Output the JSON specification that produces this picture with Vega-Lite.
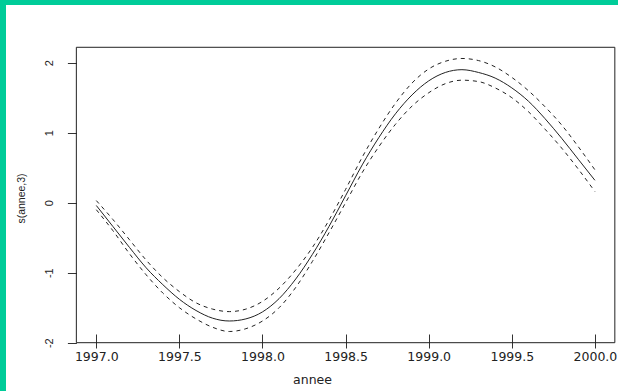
{
  "$schema": "https://vega.github.io/schema/vega-lite/v6.json",
  "width": 612,
  "height": 386,
  "autosize": {"type": "none"},
  "padding": {"left": 6, "top": 5, "right": 0, "bottom": 0},
  "background": "#00cc99",
  "config": {"view": {"fill": "white", "stroke": null}},
  "data": {
    "values": [
      {"annee": 1997.0, "fit": -0.04, "lower": -0.10, "upper": 0.03},
      {"annee": 1997.1, "fit": -0.34, "lower": -0.40, "upper": -0.24},
      {"annee": 1997.2, "fit": -0.64, "lower": -0.73, "upper": -0.53},
      {"annee": 1997.3, "fit": -0.93, "lower": -1.03, "upper": -0.82},
      {"annee": 1997.4, "fit": -1.17, "lower": -1.29, "upper": -1.07},
      {"annee": 1997.5, "fit": -1.38, "lower": -1.50, "upper": -1.27},
      {"annee": 1997.6, "fit": -1.54, "lower": -1.66, "upper": -1.43},
      {"annee": 1997.7, "fit": -1.65, "lower": -1.78, "upper": -1.52},
      {"annee": 1997.8, "fit": -1.69, "lower": -1.84, "upper": -1.556},
      {"annee": 1997.9, "fit": -1.66, "lower": -1.80, "upper": -1.52},
      {"annee": 1998.0, "fit": -1.56, "lower": -1.69, "upper": -1.41},
      {"annee": 1998.1, "fit": -1.37, "lower": -1.50, "upper": -1.22},
      {"annee": 1998.2, "fit": -1.09, "lower": -1.21, "upper": -0.96},
      {"annee": 1998.3, "fit": -0.74, "lower": -0.84, "upper": -0.64},
      {"annee": 1998.4, "fit": -0.34, "lower": -0.43, "upper": -0.25},
      {"annee": 1998.5, "fit": 0.10, "lower": 0.00, "upper": 0.19},
      {"annee": 1998.6, "fit": 0.54, "lower": 0.43, "upper": 0.65},
      {"annee": 1998.7, "fit": 0.93, "lower": 0.80, "upper": 1.06},
      {"annee": 1998.8, "fit": 1.27, "lower": 1.12, "upper": 1.42},
      {"annee": 1998.9, "fit": 1.54, "lower": 1.38, "upper": 1.71},
      {"annee": 1999.0, "fit": 1.74, "lower": 1.57, "upper": 1.91},
      {"annee": 1999.1, "fit": 1.86, "lower": 1.70, "upper": 2.02},
      {"annee": 1999.2, "fit": 1.90, "lower": 1.75, "upper": 2.06},
      {"annee": 1999.3, "fit": 1.86, "lower": 1.73, "upper": 2.03},
      {"annee": 1999.4, "fit": 1.78, "lower": 1.64, "upper": 1.94},
      {"annee": 1999.5, "fit": 1.64, "lower": 1.50, "upper": 1.79},
      {"annee": 1999.6, "fit": 1.45, "lower": 1.30, "upper": 1.60},
      {"annee": 1999.7, "fit": 1.20, "lower": 1.05, "upper": 1.37},
      {"annee": 1999.8, "fit": 0.92, "lower": 0.78, "upper": 1.11},
      {"annee": 1999.9, "fit": 0.62, "lower": 0.48, "upper": 0.80},
      {"annee": 2000.0, "fit": 0.32, "lower": 0.16, "upper": 0.47}
    ]
  },
  "layer": [
    {
      "data": {"values": [{}]},
      "mark": {"type": "rect", "fill": null, "stroke": "#222", "strokeWidth": 1},
      "encoding": {
        "x": {"datum": 1996.88, "type": "quantitative"},
        "x2": {"datum": 2000.12},
        "y": {"datum": -2, "type": "quantitative"},
        "y2": {"datum": 2.22}
      }
    },
    {
      "mark": {"type": "line", "stroke": "#222", "strokeWidth": 1, "strokeDash": [4, 4], "interpolate": "monotone"},
      "encoding": {
        "x": {"field": "annee", "type": "quantitative"},
        "y": {"field": "upper", "type": "quantitative"}
      }
    },
    {
      "mark": {"type": "line", "stroke": "#222", "strokeWidth": 1, "strokeDash": [4, 4], "interpolate": "monotone"},
      "encoding": {
        "x": {"field": "annee", "type": "quantitative"},
        "y": {"field": "lower", "type": "quantitative"}
      }
    },
    {
      "mark": {"type": "line", "stroke": "#222", "strokeWidth": 1, "interpolate": "monotone"},
      "encoding": {
        "x": {
          "field": "annee",
          "type": "quantitative",
          "scale": {"domain": [1996.4567, 2000.139], "nice": false, "zero": false},
          "axis": {
            "orient": "bottom",
            "offset": -57,
            "values": [1997, 1997.5, 1998, 1998.5, 1999, 1999.5, 2000],
            "format": ".1f",
            "domain": false,
            "grid": false,
            "tickSize": 14,
            "tickColor": "#333",
            "labelPadding": 2,
            "labelFont": "DejaVu Sans",
            "labelFontSize": 12.5,
            "labelColor": "#222",
            "labelFlush": false,
            "labelOverlap": false,
            "title": "annee",
            "titleFont": "DejaVu Sans",
            "titleFontSize": 12.5,
            "titleFontWeight": "normal",
            "titleColor": "#222",
            "titlePadding": 11
          }
        },
        "y": {
          "field": "fit",
          "type": "quantitative",
          "scale": {"domain": [-2.69, 2.824], "nice": false, "zero": false},
          "axis": {
            "orient": "left",
            "offset": -70.4,
            "values": [-2, -1, 0, 1, 2],
            "labelExpr": "'' + datum.value",
            "domain": false,
            "grid": false,
            "tickSize": 9,
            "tickColor": "#333",
            "labelAngle": 270,
            "labelAlign": "center",
            "labelBaseline": "alphabetic",
            "labelPadding": 15,
            "labelFont": "Liberation Sans",
            "labelFontSize": 11,
            "labelColor": "#222",
            "labelFlush": false,
            "labelOverlap": false,
            "title": "s(annee,3)",
            "titleFont": "Liberation Sans",
            "titleFontSize": 10.5,
            "titleFontWeight": "normal",
            "titleColor": "#222",
            "titlePadding": 17
          }
        }
      }
    }
  ]
}
